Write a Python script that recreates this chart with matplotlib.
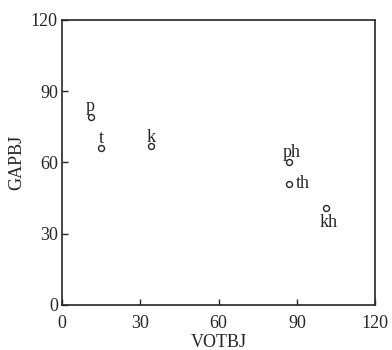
import matplotlib
matplotlib.use("Agg")
import matplotlib.pyplot as plt

plt.rcParams["font.family"] = ["Liberation Serif", "DejaVu Serif"]

# Stop consonants: voice onset time vs. closure gap (ms)
labels = ["p", "t", "k", "ph", "th", "kh"]
votbj = [11, 15, 34, 87, 87, 101]
gapbj = [79, 66, 67, 60, 51, 41]

# label placement: (dx, dy in points, ha, va)
label_pos = {
    "p": (0, 2, "center", "bottom"),
    "t": (0, 1, "center", "bottom"),
    "k": (0, 0, "center", "bottom"),
    "ph": (2, 1, "center", "bottom"),
    "th": (5, 0, "left", "center"),
    "kh": (2, -5, "center", "top"),
}

ink = "#262626"

fig = plt.figure(figsize=(3.92, 3.5), dpi=100)
ax = fig.add_axes([0.158, 0.129, 0.799, 0.814])

ax.plot(votbj, gapbj, linestyle="none", marker="o", markersize=4.3,
        markerfacecolor="white", markeredgecolor=ink, markeredgewidth=1.0)

for name, x, y in zip(labels, votbj, gapbj):
    dx, dy, ha, va = label_pos[name]
    ax.annotate(name, (x, y), xytext=(dx, dy), textcoords="offset points",
                ha=ha, va=va, fontsize=13, color=ink)

ax.set_xlim(0, 120)
ax.set_ylim(0, 120)
ax.set_xticks([0, 30, 60, 90, 120])
ax.set_yticks([0, 30, 60, 90, 120])
ax.tick_params(direction="in", length=4, width=1.0, colors=ink,
               labelsize=13, pad=3)
ax.tick_params(axis="x", pad=7.5)
for s in ax.spines.values():
    s.set_color(ink)
    s.set_linewidth(1.2)

ax.set_xlabel("VOTBJ", fontsize=13, color=ink, labelpad=1)
ax.set_ylabel("GAPBJ", fontsize=13, color=ink, labelpad=4)

fig.savefig("out.png", dpi=100, facecolor="white")
